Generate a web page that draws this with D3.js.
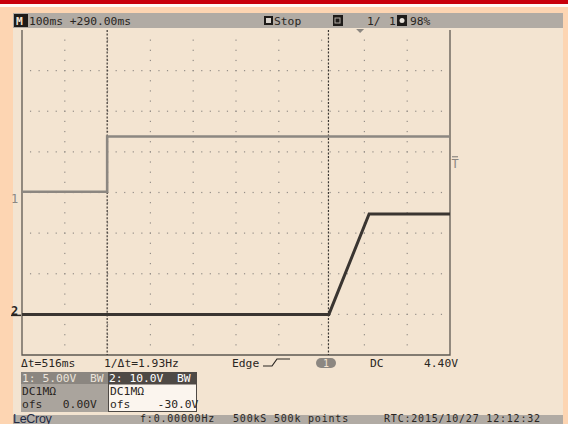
<!DOCTYPE html>
<html>
<head>
<meta charset="utf-8">
<script src="https://cdn.jsdelivr.net/npm/d3@7"></script>
<style>
  html, body { margin: 0; padding: 0; background: #fdd5b2; }
  svg { display: block; }
  text { font-family: "DejaVu Sans Mono", monospace; font-size: 11.3px; fill: #2a2622; white-space: pre; }
</style>
</head>
<body>
<div id="viz"></div>
<script>
const width = 568;
const height = 424;

// scope data (time in ms, volts)
const ch1Times = [0, 199, 199, 1000];
const ch1Volts = [0.1, 0.1, 6.9, 6.9];
const ch2Times = [0, 717, 811, 1000];
const ch2Volts = [0, 0, 24.7, 24.7];
const cursorTimes = [199, 716];
const ch1Scale = 5;     // V/div
const ch1Offset = 0;
const ch2Scale = 10;
const ch2Offset = -30;
const trigLevel = 4.4;

const headerLabels = ["100ms +290.00ms", "Stop", "1/", "1", "98%"];
const cursorLabels = ["\u0394t=516ms", "1/\u0394t=1.93Hz", "Edge", "DC", "4.40V"];
const statusLabels = ["f:0.00000Hz", "500kS 500k points", "RTC:2015/10/27 12:12:32"];

const svg = d3.select("#viz")
  .append("svg")
  .attr("width", width)
  .attr("height", height);

// frame
svg.append("rect").attr("x", 0).attr("y", 0).attr("width", width).attr("height", height).attr("fill", "#fdd5b2");
svg.append("rect").attr("x", 0).attr("y", 0).attr("width", width).attr("height", 4).attr("fill", "#c8000c");
svg.append("rect").attr("x", 0).attr("y", 4).attr("width", width).attr("height", 3).attr("fill", "#fffaf5");
svg.append("rect").attr("x", 13).attr("y", 13).attr("width", 550).attr("height", 411).attr("fill", "#f3e4d1");

// scales: time -> x, divisions -> y
const x = d3.scaleLinear().domain([0, 1000]).range([22, 450]);
const y = d3.scaleLinear().domain([-4, 4]).range([355, 30]);
const y1 = v => y((v + ch1Offset) / ch1Scale);
const y2 = v => y((v + ch2Offset) / ch2Scale);

// grid dots
const grid = svg.append("g").attr("fill", "#948e88");
d3.range(-3, 4).forEach(d => {
  d3.range(1, 50).forEach(i => {
    grid.append("rect").attr("x", x(i * 20) - 0.6).attr("y", y(d) - 0.6).attr("width", 1.2).attr("height", 1.2);
  });
});
d3.range(1, 10).forEach(k => {
  d3.range(1, 32).forEach(i => {
    grid.append("rect").attr("x", x(k * 100) - 0.6).attr("y", y(-4 + i * 0.25) - 0.6).attr("width", 1.2).attr("height", 1.2);
  });
});

// border
svg.append("path")
  .attr("d", `M${x(0)},${y(4)}V${y(-4)}H${x(1000)}V${y(4)}`)
  .attr("fill", "none").attr("stroke", "#5e5852").attr("stroke-width", 1.3);

// cursors
svg.selectAll(".cursor").data(cursorTimes).join("line")
  .attr("x1", d => x(d)).attr("x2", d => x(d))
  .attr("y1", y(4)).attr("y2", y(-4))
  .attr("stroke", "#3a3531").attr("stroke-width", 1.2).attr("stroke-dasharray", "2,1.6");

// traces
const line1 = d3.line().x((d, i) => x(ch1Times[i])).y(d => y1(d));
const line2 = d3.line().x((d, i) => x(ch2Times[i])).y(d => y2(d));
svg.append("path").datum(ch1Volts).attr("d", line1)
  .attr("fill", "none").attr("stroke", "#8c8781").attr("stroke-width", 2.6);
svg.append("path").datum(ch2Volts).attr("d", line2)
  .attr("fill", "none").attr("stroke", "#3a3531").attr("stroke-width", 3);

// channel markers
svg.append("text").attr("x", 11).attr("y", y1(0) + 10).style("fill", "#8c8781")
  .style("font-size", "12px").text("1");
svg.append("text").attr("x", 11).attr("y", y2(0) + 1).attr("font-weight", "bold")
  .style("font-size", "12px").text("2");
svg.append("line").attr("x1", 11).attr("x2", 21).attr("y1", y2(0) + 1).attr("y2", y2(0) + 1)
  .attr("stroke", "#2a2622").attr("stroke-width", 1.5);

// trigger level marker
const ty = y1(trigLevel);
svg.append("line").attr("x1", 452).attr("x2", 458).attr("y1", ty).attr("y2", ty)
  .attr("stroke", "#8c8781").attr("stroke-width", 1.2);
svg.append("text").attr("x", 451.5).attr("y", ty + 11).style("fill", "#8c8781").style("font-size", "12px").text("T");

// header bar
svg.append("rect").attr("x", 13).attr("y", 13).attr("width", 550).attr("height", 15).attr("fill", "#b1aba4");
svg.append("rect").attr("x", 14).attr("y", 14).attr("width", 14).attr("height", 13).attr("fill", "#1e1b19");
svg.append("text").attr("x", 16).attr("y", 25).style("fill", "#f3e4d1").attr("font-weight", "bold").text("M");
svg.append("text").attr("x", 29).attr("y", 25).text(headerLabels[0]);
svg.append("rect").attr("x", 264).attr("y", 16).attr("width", 9).attr("height", 9).attr("fill", "#1e1b19");
svg.append("rect").attr("x", 266).attr("y", 18).attr("width", 5).attr("height", 5).attr("fill", "#d8d2cb");
svg.append("text").attr("x", 274).attr("y", 25).text(headerLabels[1]);
svg.append("rect").attr("x", 333).attr("y", 15).attr("width", 10).attr("height", 11).attr("fill", "#1e1b19");
svg.append("rect").attr("x", 335).attr("y", 18).attr("width", 5).attr("height", 5).attr("fill", "none").attr("stroke", "#b1aba4");
svg.append("text").attr("x", 367).attr("y", 25).text(headerLabels[2]);
svg.append("text").attr("x", 389).attr("y", 25).text(headerLabels[3]);
svg.append("rect").attr("x", 397).attr("y", 15).attr("width", 10).attr("height", 11).attr("fill", "#1e1b19");
svg.append("circle").attr("cx", 402).attr("cy", 20.5).attr("r", 2.5).attr("fill", "#e8e2da");
svg.append("text").attr("x", 410).attr("y", 25).text(headerLabels[4]);

// trigger position marker on top
svg.append("path").attr("d", `M${x(790) - 4},29L${x(790) + 4},29L${x(790)},33Z`).attr("fill", "#8c8781");

// cursor readout row
svg.append("text").attr("x", 21).attr("y", 367).text(cursorLabels[0]);
svg.append("text").attr("x", 104).attr("y", 367).text(cursorLabels[1]);
svg.append("text").attr("x", 232).attr("y", 367).text(cursorLabels[2]);
svg.append("path").attr("d", "M263,366H272L277,359H290").attr("fill", "none").attr("stroke", "#2a2622").attr("stroke-width", 1.2);
svg.append("rect").attr("x", 316).attr("y", 358).attr("width", 20).attr("height", 10).attr("rx", 5).attr("fill", "#8c8781");
svg.append("text").attr("x", 323).attr("y", 366.5).style("fill", "#f3e4d1").style("font-size", "10px").text("1");
svg.append("text").attr("x", 370).attr("y", 367).text(cursorLabels[3]);
svg.append("text").attr("x", 424).attr("y", 367).text(cursorLabels[4]);

// channel boxes
svg.append("rect").attr("x", 21).attr("y", 372).attr("width", 87).attr("height", 12).attr("fill", "#8b8680");
svg.append("rect").attr("x", 21).attr("y", 384).attr("width", 87).attr("height", 28).attr("fill", "#aaa49d");
svg.append("text").attr("x", 22).attr("y", 382).style("fill", "#ece4da").text("1: 5.00V  BW");
svg.append("text").attr("x", 22).attr("y", 395).text("DC1M\u03a9");
svg.append("text").attr("x", 22).attr("y", 408).text("ofs   0.00V");

svg.append("rect").attr("x", 108).attr("y", 372).attr("width", 89).attr("height", 12).attr("fill", "#4e4945");
svg.append("rect").attr("x", 108.5).attr("y", 384).attr("width", 88).attr("height", 27.5).attr("fill", "#fbf5ee")
  .attr("stroke", "#4e4945").attr("stroke-width", 1);
svg.append("text").attr("x", 109).attr("y", 382).style("fill", "#ffffff").text("2: 10.0V  BW");
svg.append("text").attr("x", 110).attr("y", 395).text("DC1M\u03a9");
svg.append("text").attr("x", 110).attr("y", 408).text("ofs    -30.0V");

// status bar
svg.append("rect").attr("x", 13).attr("y", 415).attr("width", 550).attr("height", 9).attr("fill", "#b1aba4");
svg.append("text").attr("x", 13).attr("y", 422.5).style("font-family", "Liberation Sans, sans-serif")
  .style("font-size", "12.5px").style("fill", "#1f2a44").attr("letter-spacing", "-0.3").text("LeCroy");
statusLabels.forEach((s, i) => {
  svg.append("text").attr("x", [140, 233, 384][i]).attr("y", 421.5)
    .style("font-size", "10px").attr("letter-spacing", "0.8").text(s);
});
</script>
</body>
</html>
